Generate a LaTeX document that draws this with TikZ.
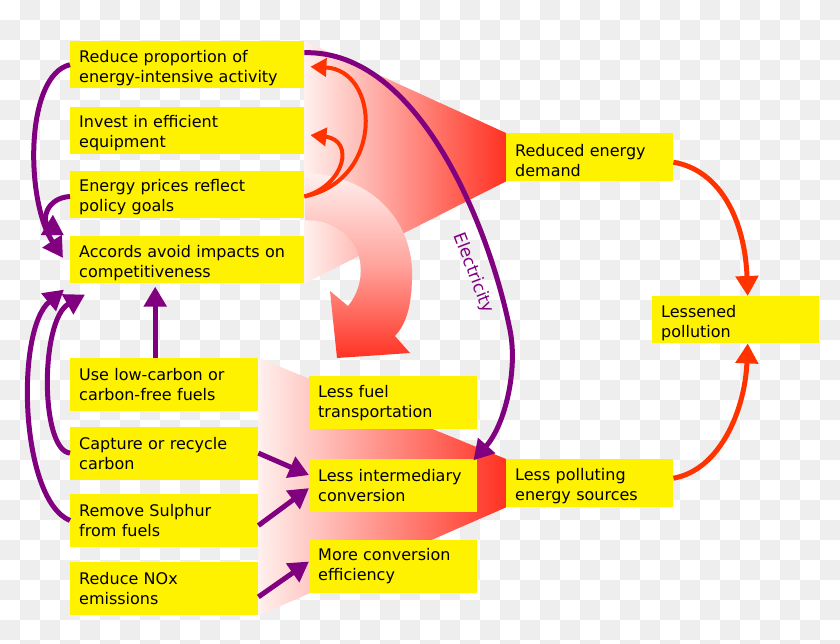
\documentclass[tikz,border=0pt]{standalone}
\usepackage{fontspec}
\setmainfont{DejaVu Sans}
\usetikzlibrary{positioning,arrows.meta}
\definecolor{flame}{RGB}{255,51,0}
\definecolor{grape}{RGB}{128,0,128}
\definecolor{checkgray}{RGB}{238,238,238}
\definecolor{funnelred}{RGB}{255,50,35}
\definecolor{funnelpale}{RGB}{255,240,238}
\pgfdeclarelayer{back}
\pgfdeclarelayer{mid}
\pgfsetlayers{back,mid,main}

\begin{document}
\begin{tikzpicture}[
    x=1pt, y=-1pt,
    card/.style={rectangle, fill=yellow, inner xsep=9pt, inner ysep=0pt, text width=#1, align=left, font=\fontsize{16}{20}\selectfont},
    shortcard/.style={card=#1, minimum height=47pt, text height=18pt},
    tallcard/.style={card=#1, minimum height=53pt},
    parrow/.style={draw=grape, line width=5pt, -{Triangle[length=20pt,width=22pt]}},
    rarrow/.style={draw=flame, line width=5pt, -{Triangle[length=20pt,width=22pt]}},
    smallrarrow/.style={draw=flame, line width=4pt, -{Triangle[length=16pt,width=18pt]}}
]
    \useasboundingbox (0,0) rectangle (840,644);

    % policy measures, upper column
    \node[shortcard=216pt, anchor=north west] (reduce) at (70,41) {Reduce proportion of\\energy-intensive activity};
    \node[shortcard=216pt, below=18pt of reduce] (invest) {Invest in efficient\\equipment};
    \node[shortcard=216pt, below=17pt of invest] (prices) {Energy prices reflect\\policy goals};
    \node[shortcard=216pt, below=18pt of prices] (accords) {Accords avoid impacts on\\competitiveness};

    % policy measures, lower column
    \node[tallcard=170pt, anchor=north west] (uselow) at (70,358) {Use low-carbon or\\carbon-free fuels};
    \node[tallcard=170pt, below=15pt of uselow] (capture) {Capture or recycle\\carbon};
    \node[tallcard=170pt, below=14pt of capture] (remove) {Remove Sulphur\\from fuels};
    \node[tallcard=170pt, below=15pt of remove] (nox) {Reduce NOx\\emissions};

    % supply side effects
    \node[tallcard=150pt, anchor=north west] (fueltrans) at (309,376) {Less fuel\\transportation};
    \node[tallcard=150pt, below=29pt of fueltrans] (intermed) {Less intermediary\\conversion};
    \node[tallcard=150pt, below=28pt of intermed] (moreconv) {More conversion\\efficiency};

    % outcomes
    \node[shortcard=149pt, minimum height=48pt, anchor=north west] (demand) at (506,133) {Reduced energy\\demand};
    \node[shortcard=149pt, minimum height=48pt, anchor=north west] (polluting) at (506,459) {Less polluting\\energy sources};
    \node[shortcard=149pt, anchor=north west] (lessened) at (652,296) {Lessened\\pollution};

    % checkered backdrop
    \begin{pgfonlayer}{back}
        \fill[white] (0,0) rectangle (840,644);
        \foreach \i in {0,...,41}
            \foreach \j in {0,...,32}
                {\ifodd\numexpr\i+\j\relax \fill[checkgray] (20*\i,20*\j) rectangle ++(20,20);\fi}
    \end{pgfonlayer}

    % shaded funnels and the bent arrow
    \begin{pgfonlayer}{mid}
        \shade[left color=funnelpale, right color=funnelred] (reduce.north east) -- (demand.north west) -- (demand.south west) -- (accords.south east) -- cycle;
        \shade[left color=funnelpale, right color=funnelred] (uselow.north east) -- (polluting.north west) -- (polluting.south west) -- (nox.south east) -- cycle;
        \shade[top color=funnelpale, bottom color=funnelred, middle color=funnelred!45!white]
            (305,173) .. controls (370,175) and (415,220) .. (412,280)
            .. controls (411,310) and (405,325) .. (395,336) -- (410,353) -- (337,358) -- (330,291) -- (348,306)
            .. controls (366,285) and (368,245) .. (335,227) .. controls (322,221) .. (305,220) -- cycle;
    \end{pgfonlayer}

    % red links
    \draw[smallrarrow] ([yshift=-2pt]prices.east) .. controls (385,180) and (380,70) .. ([shift={(6pt,-2pt)}]reduce.east);
    \draw[smallrarrow] ([yshift=-2pt]prices.east) .. controls (345,185) and (355,140) .. ([shift={(6pt,-5pt)}]invest.east);
    \draw[rarrow] ([yshift=-5pt]demand.east) .. controls (720,170) and (745,220) .. ([xshift=12pt]lessened.north);
    \draw[rarrow] ([yshift=5pt]polluting.east) .. controls (720,470) and (745,410) .. ([xshift=12pt]lessened.south);

    % purple links
    \draw[parrow] ([yshift=12pt]reduce.east) .. controls (420,50) and (490,230) .. (510,330)
        .. controls (518,370) and (505,425) .. ([shift={(-4pt,-2pt)}]intermed.north east);
    \node[text=grape, rotate=-69, font=\fontsize{17}{20}\selectfont] (eleclabel) at (473,273) {Electricity};
    \draw[parrow] (reduce.west) .. controls (25,75) and (25,200) .. ([shift={(-7pt,2pt)}]accords.west);
    \draw[parrow] ([yshift=-2pt]prices.west) .. controls (45,198) and (42,222) .. ([shift={(-6pt,1pt)}]accords.north west);
    \draw[parrow] ([xshift=-9pt]uselow.north) -- ([xshift=-9pt,yshift=-3pt]uselow.north |- accords.south);
    \draw[parrow] (capture.west) .. controls (40,450) and (40,320) .. ([shift={(15pt,-11pt)}]accords.south west);
    \draw[parrow] (remove.west) .. controls (20,500) and (15,330) .. ([shift={(-6pt,-6pt)}]accords.south west);
    \draw[parrow] (capture.east) -- ([yshift=10pt]intermed.west);
    \draw[parrow] ([yshift=-5pt]remove.east) -- ([yshift=-3pt]intermed.west);
    \draw[parrow] ([yshift=-8pt]nox.east) -- ([yshift=5pt]moreconv.west);
\end{tikzpicture}
\end{document}
